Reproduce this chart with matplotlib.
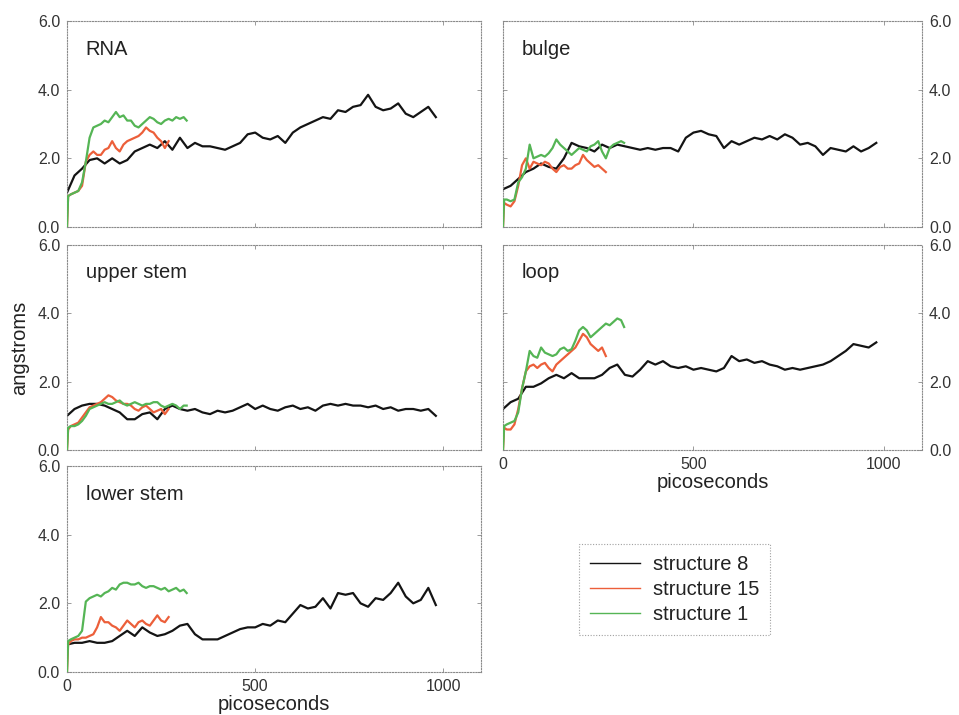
import numpy as np
import matplotlib
matplotlib.use("Agg")
import matplotlib.pyplot as plt

plt.rcParams['font.family'] = ['Liberation Sans', 'DejaVu Sans']

# time grids (ps)
t8 = list(range(0, 981, 20))
t15 = [0, 3] + list(range(10, 271, 10))
t1 = [0, 3] + list(range(10, 311, 10)) + [318]

series_names = ["structure 8", "structure 15", "structure 1"]
series_colors = ["#141414", "#ec5f3a", "#55b555"]

# RNA panel
rna_s8 = [1.0, 1.5, 1.7, 1.95, 2.0, 1.85, 2.0, 1.85, 1.95, 2.2, 2.3, 2.4, 2.3, 2.5, 2.25, 2.6, 2.3, 2.45,
          2.35, 2.35, 2.3, 2.25, 2.35, 2.45, 2.7, 2.75, 2.6, 2.55, 2.65, 2.45, 2.75, 2.9, 3.0, 3.1, 3.2,
          3.15, 3.4, 3.35, 3.5, 3.55, 3.85, 3.5, 3.4, 3.45, 3.6, 3.3, 3.2, 3.35, 3.5, 3.2]
rna_s15 = [0.0, 0.9, 0.95, 1.0, 1.05, 1.2, 1.9, 2.1, 2.2, 2.1, 2.1, 2.25, 2.3, 2.5, 2.3, 2.2, 2.4, 2.5,
           2.55, 2.6, 2.65, 2.75, 2.9, 2.8, 2.75, 2.6, 2.5, 2.3, 2.5]
rna_s1 = [0.0, 0.9, 0.95, 1.0, 1.05, 1.3, 1.9, 2.6, 2.9, 2.95, 3.0, 3.1, 3.05, 3.2, 3.35, 3.2, 3.25,
          3.1, 3.1, 2.95, 2.9, 3.0, 3.1, 3.2, 3.15, 3.05, 3.0, 3.1, 3.15, 3.1, 3.2, 3.15, 3.2, 3.1]

# bulge panel
bulge_s8 = [1.1, 1.2, 1.4, 1.6, 1.7, 1.85, 1.75, 1.7, 2.0, 2.45, 2.35, 2.3, 2.2, 2.4, 2.3, 2.4, 2.35,
            2.3, 2.25, 2.3, 2.25, 2.3, 2.3, 2.2, 2.6, 2.75, 2.8, 2.7, 2.65, 2.3, 2.5, 2.4, 2.5, 2.6,
            2.55, 2.65, 2.55, 2.7, 2.6, 2.4, 2.45, 2.35, 2.1, 2.3, 2.25, 2.2, 2.35, 2.2, 2.3, 2.45]
bulge_s15 = [0.0, 0.7, 0.65, 0.6, 0.75, 1.2, 1.8, 2.0, 1.7, 1.9, 1.85, 1.8, 1.9, 1.85, 1.7, 1.6, 1.75,
             1.8, 1.7, 1.7, 1.8, 1.85, 2.1, 1.95, 1.85, 1.75, 1.8, 1.7, 1.6]
bulge_s1 = [0.0, 0.8, 0.8, 0.75, 0.8, 1.3, 1.45, 1.7, 2.4, 2.0, 2.05, 2.1, 2.05, 2.15, 2.3, 2.55, 2.4,
            2.3, 2.2, 2.1, 2.2, 2.3, 2.25, 2.2, 2.35, 2.4, 2.5, 2.2, 2.0, 2.3, 2.4, 2.45, 2.5, 2.45]

# upper stem panel
upper_s8 = [1.0, 1.2, 1.3, 1.35, 1.35, 1.3, 1.2, 1.1, 0.9, 0.9, 1.05, 1.1, 0.9, 1.2, 1.3, 1.2, 1.15,
            1.2, 1.1, 1.05, 1.15, 1.1, 1.15, 1.25, 1.35, 1.2, 1.3, 1.2, 1.15, 1.25, 1.3, 1.2, 1.25,
            1.15, 1.3, 1.35, 1.3, 1.35, 1.3, 1.3, 1.25, 1.3, 1.2, 1.25, 1.15, 1.2, 1.2, 1.15, 1.2, 1.0]
upper_s15 = [0.0, 0.6, 0.7, 0.75, 0.8, 0.95, 1.1, 1.25, 1.3, 1.35, 1.4, 1.5, 1.6, 1.55, 1.45, 1.4,
             1.35, 1.35, 1.3, 1.2, 1.15, 1.25, 1.3, 1.2, 1.1, 1.15, 1.2, 1.05, 1.2]
upper_s1 = [0.0, 0.65, 0.7, 0.7, 0.75, 0.85, 1.0, 1.2, 1.25, 1.3, 1.35, 1.4, 1.35, 1.35, 1.4, 1.45,
            1.35, 1.3, 1.35, 1.4, 1.35, 1.3, 1.35, 1.35, 1.4, 1.4, 1.3, 1.25, 1.3, 1.35, 1.3, 1.2,
            1.3, 1.3]

# loop panel
loop_s8 = [1.2, 1.4, 1.5, 1.85, 1.85, 1.95, 2.1, 2.2, 2.1, 2.25, 2.1, 2.1, 2.1, 2.2, 2.4, 2.5, 2.2,
           2.15, 2.35, 2.6, 2.5, 2.6, 2.45, 2.4, 2.45, 2.35, 2.4, 2.35, 2.3, 2.4, 2.75, 2.6, 2.65,
           2.55, 2.6, 2.5, 2.45, 2.35, 2.4, 2.35, 2.4, 2.45, 2.5, 2.6, 2.75, 2.9, 3.1, 3.05, 3.0, 3.15]
loop_s15 = [0.0, 0.65, 0.6, 0.6, 0.75, 1.2, 1.8, 2.3, 2.45, 2.5, 2.4, 2.5, 2.55, 2.4, 2.3, 2.5, 2.6,
            2.7, 2.8, 2.9, 3.0, 3.2, 3.4, 3.3, 3.1, 3.0, 2.9, 3.0, 2.75]
loop_s1 = [0.0, 0.7, 0.75, 0.8, 0.85, 1.1, 1.8, 2.3, 2.9, 2.75, 2.7, 3.0, 2.85, 2.8, 2.75, 2.8, 2.95,
           3.0, 2.9, 2.95, 3.2, 3.5, 3.6, 3.5, 3.3, 3.4, 3.5, 3.6, 3.7, 3.65, 3.75, 3.85, 3.8, 3.6]

# lower stem panel
lower_s8 = [0.8, 0.85, 0.85, 0.9, 0.85, 0.85, 0.9, 1.05, 1.2, 1.05, 1.3, 1.15, 1.05, 1.1, 1.2, 1.35,
            1.4, 1.1, 0.95, 0.95, 0.95, 1.05, 1.15, 1.25, 1.3, 1.3, 1.4, 1.35, 1.5, 1.45, 1.7, 1.95,
            1.85, 1.9, 2.15, 1.85, 2.3, 2.25, 2.3, 2.0, 1.9, 2.15, 2.1, 2.3, 2.6, 2.2, 2.0, 2.1, 2.45, 1.95]
lower_s15 = [0.0, 0.8, 0.9, 0.95, 0.95, 1.0, 1.0, 1.05, 1.1, 1.3, 1.6, 1.45, 1.45, 1.35, 1.3, 1.2,
             1.35, 1.5, 1.4, 1.3, 1.45, 1.5, 1.4, 1.35, 1.5, 1.65, 1.5, 1.45, 1.6]
lower_s1 = [0.0, 0.9, 0.95, 1.0, 1.05, 1.2, 2.05, 2.15, 2.2, 2.25, 2.2, 2.3, 2.35, 2.45, 2.4, 2.55,
            2.6, 2.6, 2.55, 2.55, 2.6, 2.5, 2.45, 2.5, 2.5, 2.45, 2.4, 2.45, 2.35, 2.4, 2.45, 2.35,
            2.4, 2.3]

xticks = [0, 500, 1000]
yticks = [0.0, 2.0, 4.0, 6.0]
ytick_labels = ["0.0", "2.0", "4.0", "6.0"]

W, H = 959, 715
fig = plt.figure(figsize=(W / 100, H / 100), dpi=100)


def make_ax(x0, y0, x1, y1):
    return fig.add_axes([x0 / W, 1 - y1 / H, (x1 - x0) / W, (y1 - y0) / H])


panels = [
    ("RNA", (67, 21, 481, 227), "left", False, (rna_s8, rna_s15, rna_s1)),
    ("upper stem", (67, 245, 481, 450), "left", False, (upper_s8, upper_s15, upper_s1)),
    ("lower stem", (67, 466, 481, 672), "left", True, (lower_s8, lower_s15, lower_s1)),
    ("bulge", (503, 21, 922, 227), "right", False, (bulge_s8, bulge_s15, bulge_s1)),
    ("loop", (503, 245, 922, 450), "right", True, (loop_s8, loop_s15, loop_s1)),
]

times = [t8, t15, t1]
handles = []
for title, box, side, showx, data in panels:
    ax = make_ax(*box)
    for i in range(3):
        ln, = ax.plot(times[i], data[i], color=series_colors[i], lw=1.6,
                      label=series_names[i], zorder=2 + i)
        if title == "RNA":
            handles.append(ln)
    ax.set_xlim(0, 1100)
    ax.set_ylim(0, 6)
    ax.set_xticks(xticks)
    ax.set_yticks(yticks)
    for sp in ax.spines.values():
        sp.set_linestyle((0, (1, 1.5)))
        sp.set_color("#8a8a8a")
        sp.set_linewidth(0.8)
    ax.tick_params(direction="in", length=3, width=0.6, color="#8a8a8a",
                   labelsize=11.5, labelcolor="#333333", pad=5)
    ax.tick_params(axis="x", top=True)
    ax.tick_params(axis="y", left=True, right=True)
    if side == "right":
        ax.yaxis.tick_right()
        ax.tick_params(axis="y", left=True, right=True, labelleft=False, labelright=True)
    ax.set_yticklabels(ytick_labels)
    if showx:
        ax.set_xticklabels([str(v) for v in xticks])
        ax.set_xlabel("picoseconds", fontsize=14.5, color="#222222", labelpad=1)
    else:
        ax.tick_params(axis="x", labelbottom=False)
    ax.text(0.045, 0.91, title, transform=ax.transAxes, fontsize=14.5,
            color="#222222", va="top", ha="left")
    if title == "upper stem":
        ax.set_ylabel("angstroms", fontsize=14.5, color="#222222", labelpad=6)

leg = fig.legend(handles=handles, loc="upper left", bbox_to_anchor=(579 / W, 1 - 544 / H),
                 fontsize=14.5, handlelength=2.5, handletextpad=0.6, borderpad=0.55,
                 labelspacing=0.3, frameon=True, fancybox=False, borderaxespad=0)
leg.get_frame().set_edgecolor("#8a8a8a")
leg.get_frame().set_linestyle((0, (1, 1.5)))
leg.get_frame().set_linewidth(0.8)
for l in leg.get_lines():
    l.set_linewidth(1.0)
for txt in leg.get_texts():
    txt.set_color("#222222")

fig.savefig("out.png", dpi=100)
